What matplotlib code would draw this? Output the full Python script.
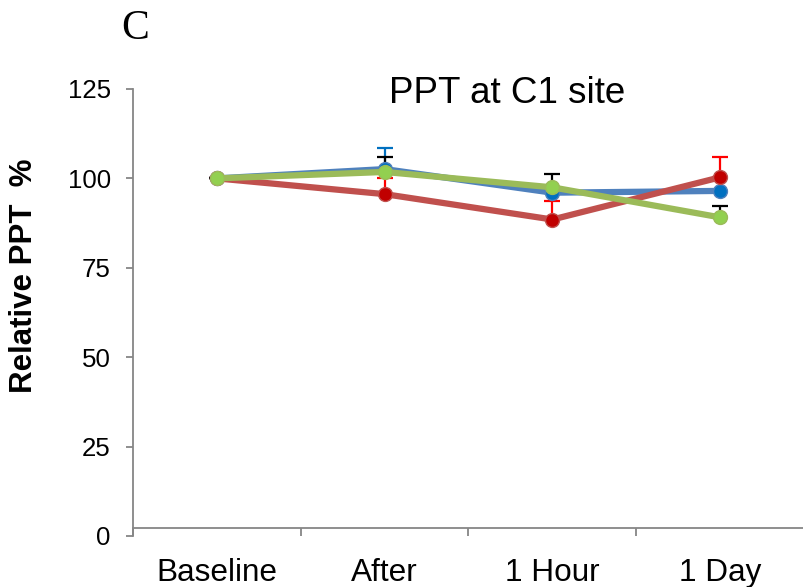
import numpy as np
import matplotlib.pyplot as plt

# data
categories = ['Baseline', 'After', '1 Hour', '1 Day']
blue_vals = [100, 102.6, 96.0, 96.5]
blue_err = [0, 6.0, 0, 0]
red_vals = [100, 95.6, 88.5, 100.3]
red_err = [0, 4.5, 5.1, 5.7]
green_vals = [100, 101.8, 97.5, 89.1]
green_err = [0, 4.2, 3.8, 3.1]

plt.rcParams['font.family'] = ['Liberation Sans', 'DejaVu Sans']

fig = plt.figure(figsize=(8.04, 5.87), dpi=100)
ax = fig.add_axes([0.1654, 0.0869, 0.8346, 0.7615])

x = np.arange(len(categories))
series = [
    (blue_vals, blue_err, '#4F81BD', '#0070C0', '#0070C0'),
    (red_vals, red_err, '#C0504D', '#C00000', '#FF0000'),
    (green_vals, green_err, '#9BBB59', '#92D050', '#000000'),
]
for vals, err, lc, mc, ec in series:
    ax.errorbar(x, vals, yerr=[np.zeros(len(err)), err], fmt='none',
                ecolor=ec, elinewidth=1.6, capsize=5.5, capthick=1.6, zorder=2)
for i, (vals, err, lc, mc, ec) in enumerate(series):
    ax.plot(x, vals, color=lc, lw=4.5, marker='o', ms=10,
            mfc=mc, mec=lc, mew=1.0, zorder=3 + i)

ax.set_xlim(-0.5, 3.5)
ax.set_ylim(0, 125)
ax.set_yticks([0, 25, 50, 75, 100, 125])

ax.set_xticks([-0.5, 0.5, 1.5, 2.5])
ax.set_xticklabels([])
ax.set_xticks(x, minor=True)
ax.set_xticklabels(categories, minor=True)
ax.tick_params(axis='x', which='major', direction='out', length=6, width=1.3, color='#868686')
ax.tick_params(axis='x', which='minor', length=0, pad=21.5, labelsize=22.7)
ax.tick_params(axis='y', direction='out', length=5, width=1.3, color='#868686',
               pad=11, labelsize=18.6)

for s in ['top', 'right']:
    ax.spines[s].set_visible(False)
ax.spines['left'].set_color('#868686')
ax.spines['left'].set_linewidth(1.3)
ax.spines['bottom'].set_color('#868686')
ax.spines['bottom'].set_linewidth(1.3)
ax.spines['bottom'].set_position(('data', 2.2))

fig.text(0.6306, 0.8245, 'PPT at C1 site', fontsize=26.5, ha='center', va='baseline')
fig.text(0.030, 0.531, 'Relative PPT  %', rotation=90, ha='center', va='center',
         fontsize=22.5, fontweight='bold')
fig.text(0.168, 0.951, 'C', family='Liberation Serif', fontsize=30, ha='center', va='center')

fig.savefig('out.png', dpi=100)
